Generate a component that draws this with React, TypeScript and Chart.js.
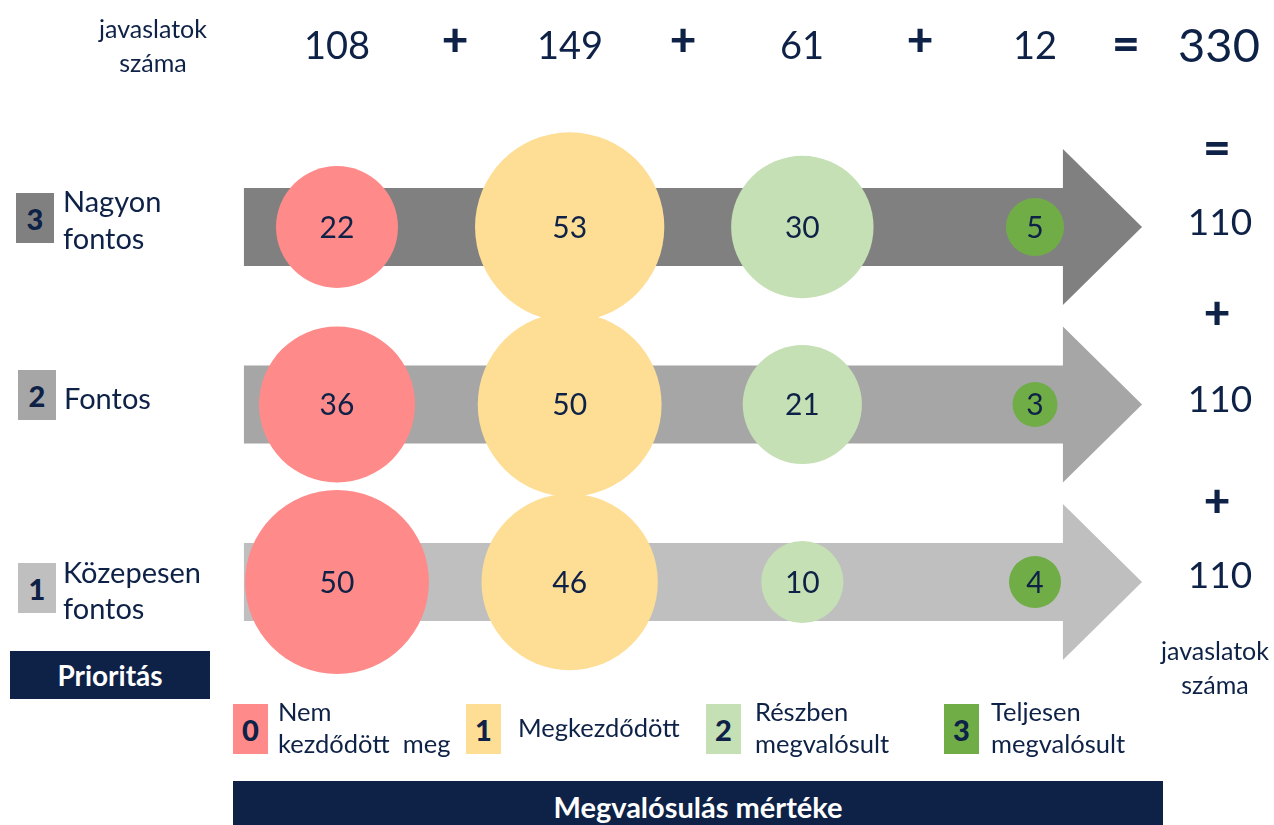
import React, { useEffect, useRef } from "react";
import { Chart, registerables } from "chart.js";

Chart.register(...registerables);

// ---- data ----
const stages = ["Nem kezdődött meg", "Megkezdődött", "Részben megvalósult", "Teljesen megvalósult"];
const stageLegendLines = [["Nem", "kezdődött  meg"], ["Megkezdődött"], ["Részben", "megvalósult"], ["Teljesen", "megvalósult"]];
const priorities = [3, 2, 1];
const priorityLines = [["Nagyon", "fontos"], ["Fontos"], ["Közepesen", "fontos"]];
// values per stage, in priority order [3, 2, 1]
const notStarted = [22, 36, 50];
const started = [53, 50, 46];
const partial = [30, 21, 10];
const completed = [5, 3, 4];
const stageValues = [notStarted, started, partial, completed];

const stageTotals = stageValues.map((a) => a.reduce((s, v) => s + v, 0));
const priorityTotals = priorities.map((_, j) => stageValues.reduce((s, a) => s + a[j], 0));
const grandTotal = stageTotals.reduce((s, v) => s + v, 0);

// ---- styles ----
const FONT = "Lato, 'Open Sans', sans-serif";
const NAVY = "#0e2146";
const bubbleColors = ["#ff8a8a", "#fedd94", "#c5e0b4", "#70ad47"];
const arrowColors = ["#808080", "#a6a6a6", "#bfbfbf"];

const abs = (x: number, y: number, extra: React.CSSProperties = {}): React.CSSProperties => ({
  position: "absolute",
  left: x,
  top: y,
  transform: "translate(-50%, -50%)",
  whiteSpace: "nowrap",
  fontFamily: FONT,
  color: NAVY,
  lineHeight: 1,
  ...extra,
});

const leftText = (x: number, y: number, size: number): React.CSSProperties => ({
  ...abs(x, y, { fontSize: size }),
  transform: "translate(0, -50%)",
  whiteSpace: "pre",
});

export default function App() {
  const ref = useRef<HTMLCanvasElement | null>(null);

  useEffect(() => {
    if (!ref.current) return;
    const arrowPlugin = {
      id: "arrows",
      beforeDatasetsDraw(chart: any) {
        const { ctx } = chart;
        const xs = chart.scales.x;
        const ys = chart.scales.y;
        const x0 = xs.getPixelForValue(-0.4);
        const xh = xs.getPixelForValue(3.12);
        const xt = xs.getPixelForValue(3.46);
        priorities.forEach((p, j) => {
          const yc = ys.getPixelForValue(p);
          ctx.save();
          ctx.fillStyle = arrowColors[j];
          ctx.beginPath();
          ctx.moveTo(x0, yc - 39);
          ctx.lineTo(xh, yc - 39);
          ctx.lineTo(xh, yc - 78);
          ctx.lineTo(xt, yc);
          ctx.lineTo(xh, yc + 78);
          ctx.lineTo(xh, yc + 39);
          ctx.lineTo(x0, yc + 39);
          ctx.closePath();
          ctx.fill();
          ctx.restore();
        });
      },
    };
    const labelPlugin = {
      id: "bubbleLabels",
      afterDatasetsDraw(chart: any) {
        const { ctx } = chart;
        ctx.save();
        ctx.font = `30px ${FONT}`;
        ctx.fillStyle = NAVY;
        ctx.textAlign = "center";
        ctx.textBaseline = "middle";
        chart.data.datasets.forEach((ds: any, i: number) => {
          const meta = chart.getDatasetMeta(i);
          meta.data.forEach((el: any, k: number) => {
            ctx.fillText(String(ds.data[k].v), el.x, el.y + 1);
          });
        });
        ctx.restore();
      },
    };
    const chart = new Chart(ref.current, {
      type: "bubble",
      data: {
        datasets: stages.map((s, i) => ({
          label: s,
          data: priorities.map((p, j) => ({ x: i, y: p, r: 13 * Math.sqrt(stageValues[i][j]), v: stageValues[i][j] })),
          backgroundColor: bubbleColors[i],
          borderWidth: 0,
          hoverRadius: 0,
          clip: false,
        })) as any,
      },
      options: {
        animation: false,
        responsive: false,
        events: [],
        layout: { padding: { left: 220.67, right: 122.67, top: 138.25, bottom: 154.25 } },
        plugins: { legend: { display: false }, tooltip: { enabled: false } },
        scales: {
          x: { type: "linear", min: -0.5, max: 3.5, display: false },
          y: { type: "linear", min: 0.5, max: 3.5, display: false },
        },
      },
      plugins: [arrowPlugin, labelPlugin],
    });
    return () => chart.destroy();
  }, []);

  const colX = [337, 570, 802, 1035];
  const opX = [455, 683, 920];
  const totalY = [220, 397, 573];
  const prioLineY = [[200, 237], [397], [571, 607]];
  const prioSqTop = [193, 370, 563];

  return (
    <div style={{ position: "absolute", left: 0, top: 0, width: 1274, height: 825, background: "#fff", overflow: "hidden" }}>
      <canvas ref={ref} width={1274} height={825} style={{ position: "absolute", left: 0, top: 0 }} />

      {/* top row */}
      <div style={abs(153, 28, { fontSize: 25 })}>javaslatok</div>
      <div style={abs(153, 62, { fontSize: 25 })}>száma</div>
      {stageTotals.map((t, i) => (
        <div key={"st" + i} style={abs(colX[i], 44, { fontSize: 38 })}>{t}</div>
      ))}
      {opX.map((x, i) => (
        <div key={"op" + i} style={abs(x, 39, { fontSize: 46, fontWeight: 900 })}>+</div>
      ))}
      <div style={abs(1126, 42, { fontSize: 48, fontWeight: 900 })}>=</div>
      <div style={abs(1219, 44, { fontSize: 47 })}>{grandTotal}</div>

      {/* right column */}
      <div style={abs(1217, 146, { fontSize: 48, fontWeight: 900 })}>=</div>
      {priorityTotals.map((t, j) => (
        <div key={"pt" + j} style={abs(1220, totalY[j], { fontSize: 37 })}>{t}</div>
      ))}
      <div style={abs(1217, 312, { fontSize: 46, fontWeight: 900 })}>+</div>
      <div style={abs(1217, 500, { fontSize: 46, fontWeight: 900 })}>+</div>
      <div style={abs(1215, 650, { fontSize: 25 })}>javaslatok</div>
      <div style={abs(1215, 684, { fontSize: 25 })}>száma</div>

      {/* left priority labels */}
      {priorities.map((p, j) => (
        <React.Fragment key={"pl" + j}>
          <div
            style={{
              position: "absolute",
              left: j === 0 ? 16 : 18,
              top: prioSqTop[j],
              width: 38,
              height: 50,
              background: arrowColors[j],
              display: "flex",
              alignItems: "center",
              justifyContent: "center",
              fontFamily: FONT,
              fontWeight: 900,
              fontSize: 29,
              color: NAVY,
            }}
          >
            {p}
          </div>
          {priorityLines[j].map((line, k) => (
            <div key={k} style={leftText(j === 1 ? 64 : 63, prioLineY[j][k], 29)}>{line}</div>
          ))}
        </React.Fragment>
      ))}

      {/* Prioritás box */}
      <div
        style={{
          position: "absolute",
          left: 10,
          top: 651,
          width: 200,
          height: 48,
          background: NAVY,
          color: "#fff",
          fontFamily: FONT,
          fontWeight: 700,
          fontSize: 28,
          display: "flex",
          alignItems: "center",
          justifyContent: "center",
        }}
      >
        Prioritás
      </div>

      {/* stage legend */}
      {stages.map((s, i) => {
        const sqX = [233, 466, 706, 944][i];
        const txX = [278, 518, 755, 991][i];
        const lines = stageLegendLines[i];
        const ys = lines.length === 2 ? [712, 744] : [728];
        return (
          <React.Fragment key={"lg" + i}>
            <div
              style={{
                position: "absolute",
                left: sqX,
                top: 704,
                width: 35,
                height: 50,
                background: bubbleColors[i],
                display: "flex",
                alignItems: "center",
                justifyContent: "center",
                fontFamily: FONT,
                fontWeight: 900,
                fontSize: 29,
                color: NAVY,
              }}
            >
              {i}
            </div>
            {lines.map((line, k) => (
              <div key={k} style={leftText(txX, ys[k], 25.5)}>{line}</div>
            ))}
          </React.Fragment>
        );
      })}

      {/* Megvalósulás box */}
      <div
        style={{
          position: "absolute",
          left: 233,
          top: 781,
          width: 930,
          height: 50,
          background: NAVY,
          color: "#fff",
          fontFamily: FONT,
          fontWeight: 700,
          fontSize: 29,
          display: "flex",
          alignItems: "flex-start",
          justifyContent: "center",
          paddingTop: 8,
          boxSizing: "border-box",
        }}
      >
        Megvalósulás mértéke
      </div>
    </div>
  );
}
